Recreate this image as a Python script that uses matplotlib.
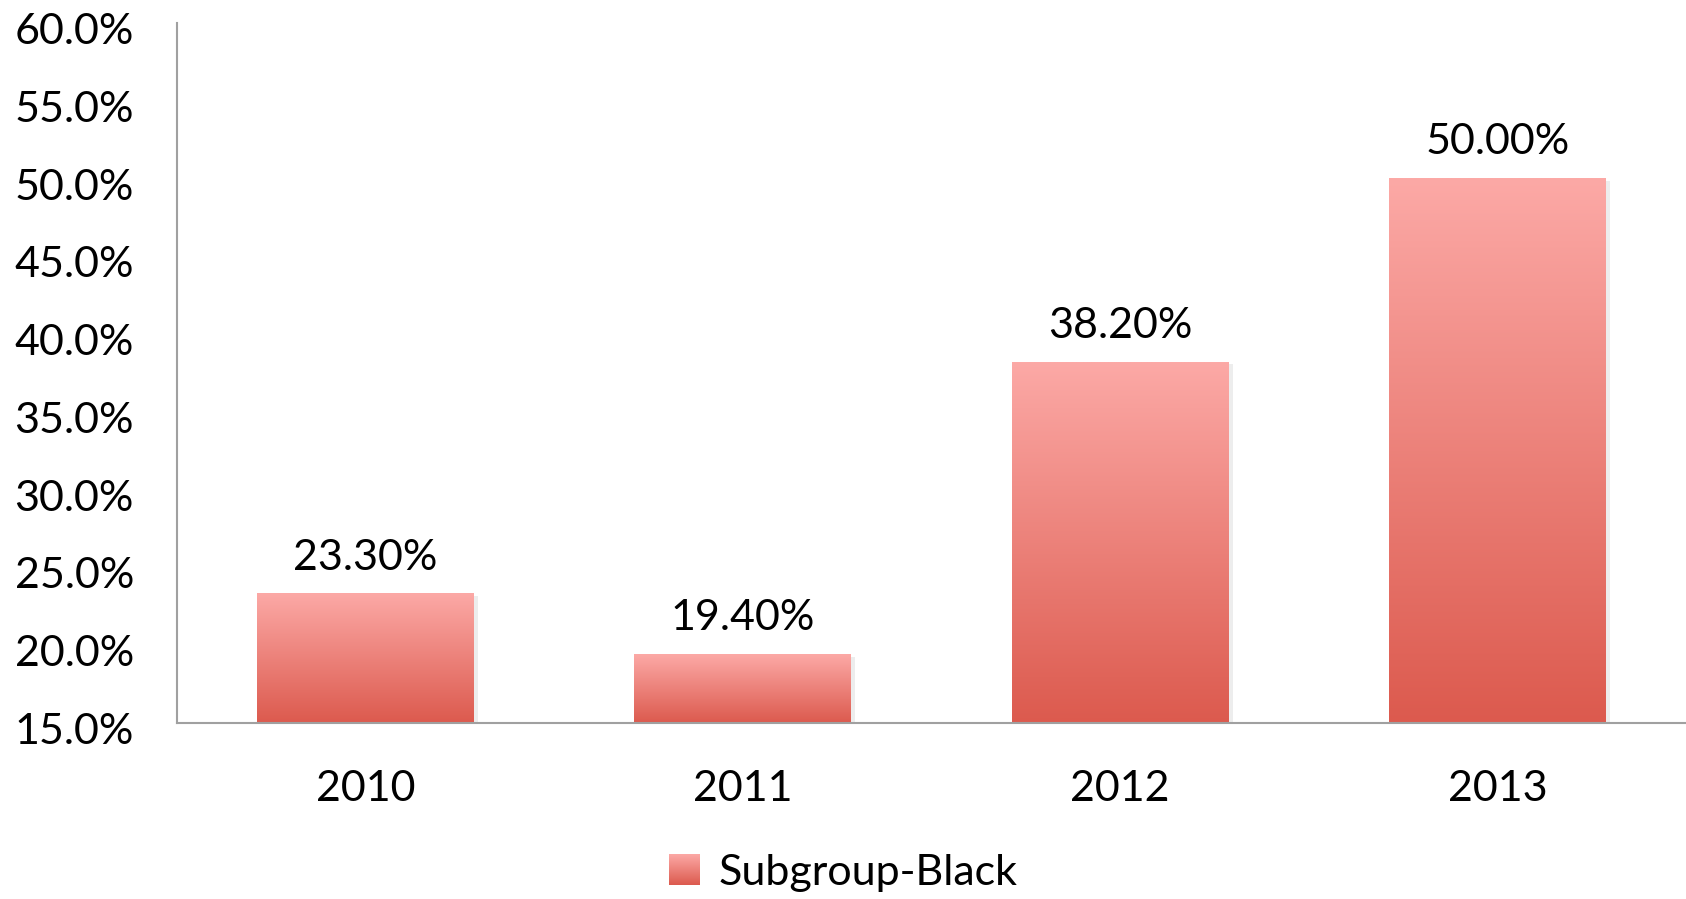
import matplotlib
matplotlib.use("Agg")
import matplotlib.pyplot as plt
import numpy as np
from matplotlib.colors import LinearSegmentedColormap
from matplotlib.ticker import FuncFormatter
from matplotlib.legend_handler import HandlerBase
from matplotlib.image import BboxImage
from matplotlib.transforms import Bbox, TransformedBbox, ScaledTranslation

years = ["2010", "2011", "2012", "2013"]
values = [23.3, 19.4, 38.2, 50.0]
series_name = "Subgroup-Black"

plt.rcParams["font.family"] = ["Lato", "DejaVu Sans"]
FS = 31

cmap = LinearSegmentedColormap.from_list("bar", ["#dc5a4e", "#fca9a6"])
grad = np.linspace(0, 1, 256).reshape(-1, 1)


class GradientHandler(HandlerBase):
    # legend swatch with the same vertical gradient as the bars
    def create_artists(self, legend, orig_handle, xdescent, ydescent,
                       width, height, fontsize, trans):
        side = min(width, height)
        bb = Bbox.from_bounds(-xdescent, -ydescent, side, side)
        img = BboxImage(TransformedBbox(bb, trans), cmap=cmap, origin="lower")
        img.set_data(grad)
        return [img]


fig = plt.figure(figsize=(16.86, 8.99), dpi=100)
ax = fig.add_axes([177 / 1686, 1 - 723 / 899, 1 - 177 / 1686, 700 / 899])

x = np.arange(len(years))
width = 0.575
ymin = 15

bars = ax.bar(x, values, width=width, color="none", edgecolor="none", zorder=2)
for b, v in zip(bars, values):
    x0 = b.get_x()
    # soft shadow
    ax.bar(x0 + width / 2 + 0.006, v - ymin, width=width + 0.01, bottom=ymin - 0.15,
           color="#000000", alpha=0.07, zorder=1, linewidth=0)
    ax.imshow(grad, cmap=cmap, aspect="auto", origin="lower",
              extent=[x0, x0 + width, ymin, v], zorder=2)
    ax.text(x0 + width / 2, v + 1.1, f"{v:.2f}%", ha="center", va="bottom",
            fontsize=FS, color="black")

ax.set_xlim(-0.5, 3.5)
ax.set_ylim(15, 60)
ax.set_yticks(np.arange(15, 60.1, 5))
ax.yaxis.set_major_formatter(FuncFormatter(lambda v, p: f"{v:.1f}%"))
ax.set_xticks(x)
ax.set_xticklabels(years)
ax.tick_params(axis="both", length=0, labelsize=FS)
ax.tick_params(axis="y", pad=31)
ax.tick_params(axis="x", pad=34)
shift = ScaledTranslation(0, -4 / 72, fig.dpi_scale_trans)
for lab in ax.get_yticklabels():
    lab.set_transform(lab.get_transform() + shift)
for side in ["top", "right"]:
    ax.spines[side].set_visible(False)
for side in ["left", "bottom"]:
    ax.spines[side].set_color("#a0a0a0")
    ax.spines[side].set_linewidth(1.5)

fig.legend([object()], [series_name], handler_map={object: GradientHandler()},
           loc="center", bbox_to_anchor=(0.5, 1 - 873 / 899),
           frameon=False, fontsize=FS, handlelength=0.7, handleheight=0.7,
           handletextpad=0.45)

fig.savefig("out.png", dpi=100)
